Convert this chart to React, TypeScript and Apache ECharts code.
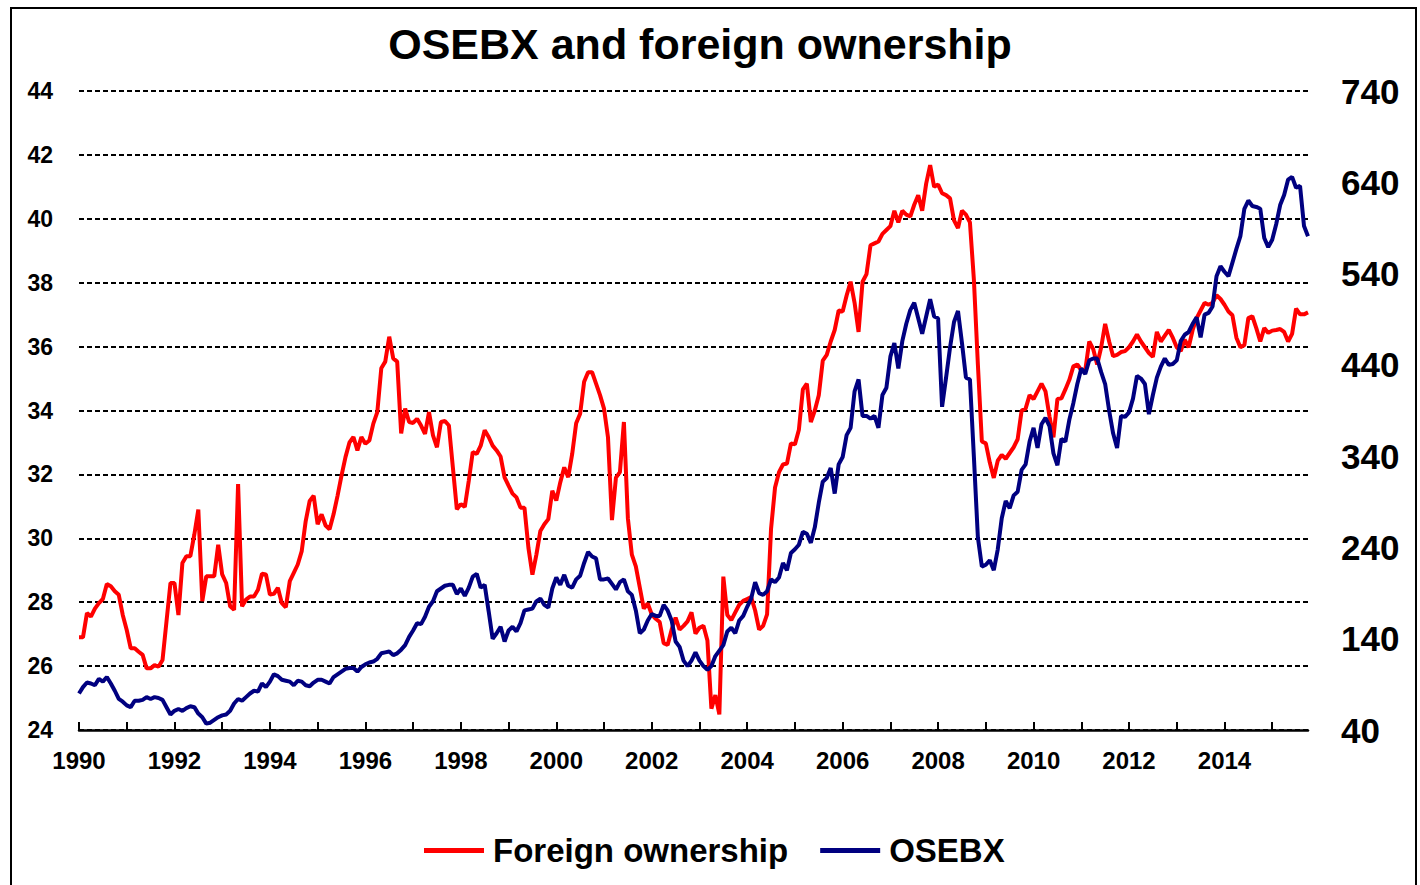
import React, { useEffect, useRef } from "react";
import * as echarts from "echarts";

// Foreign ownership share (%), monthly Jan 1990 - Oct 2015 (left axis)
const foreignOwnership: number[] = [
  26.9, 26.9, 27.66, 27.55, 27.8, 27.97, 28.1, 28.57, 28.5, 28.34, 28.23, 27.6,
  27.13, 26.56, 26.56, 26.45, 26.35, 25.93, 25.93, 26.03, 25.98, 26.19, 27.4, 28.6,
  28.6, 27.6, 29.23, 29.44, 29.44, 30.12, 30.9, 28.03, 28.81, 28.81, 28.81, 29.8,
  28.87, 28.6, 27.87, 27.76, 31.7, 27.87, 28.08, 28.18, 28.18, 28.39, 28.89, 28.87,
  28.24, 28.26, 28.45, 27.97, 27.84, 28.66, 28.92, 29.18, 29.6, 30.54, 31.17, 31.33,
  30.44, 30.75, 30.4, 30.28, 30.75, 31.33, 31.96, 32.54, 33.0, 33.17, 32.75, 33.17,
  32.96, 33.06, 33.59, 33.95, 35.32, 35.53, 36.31, 35.63, 35.53, 33.28, 34.06, 33.64,
  33.61, 33.74, 33.53, 33.27, 33.95, 33.22, 32.85, 33.64, 33.67, 33.53, 32.22, 30.91,
  31.07, 30.98, 31.8, 32.7, 32.64, 32.9, 33.38, 33.17, 32.9, 32.75, 32.56, 31.91,
  31.65, 31.4, 31.28, 30.96, 30.96, 29.7, 28.86, 29.49, 30.23, 30.44, 30.6, 31.49,
  31.18, 31.75, 32.22, 31.91, 32.64, 33.6, 33.9, 34.9, 35.2, 35.2, 34.84, 34.48,
  34.06, 33.16, 30.57, 31.9, 32.07, 33.64, 30.63, 29.49, 29.12, 28.46, 27.8, 27.96,
  27.62, 27.48, 27.38, 26.72, 26.66, 27.14, 27.52, 27.14, 27.26, 27.4, 27.68, 27.02,
  27.2, 27.26, 26.8, 24.67, 25.09, 24.49, 28.8, 27.6, 27.44, 27.68, 27.92, 28.04,
  28.1, 28.16, 27.74, 27.14, 27.26, 27.62, 30.3, 31.59, 32.07, 32.31, 32.34, 32.97,
  32.94, 33.4, 34.66, 34.84, 33.64, 34.0, 34.48, 35.56, 35.74, 36.16, 36.52, 37.13,
  37.1, 37.6, 38.03, 37.37, 36.46, 38.03, 38.27, 39.17, 39.23, 39.29, 39.53, 39.65,
  39.77, 40.25, 39.89, 40.25, 40.13, 40.07, 40.44, 40.74, 40.25, 41.1, 41.68, 41.0,
  41.07, 40.8, 40.74, 40.64, 39.95, 39.71, 40.25, 40.13, 39.89, 38.09, 35.44, 33.03,
  32.97, 32.37, 31.89, 32.43, 32.61, 32.49, 32.67, 32.85, 33.1, 34.0, 34.06, 34.48,
  34.36, 34.6, 34.84, 34.6, 33.82, 33.16, 34.36, 34.38, 34.66, 34.96, 35.38, 35.44,
  35.26, 35.26, 36.16, 35.92, 35.44, 35.98, 36.71, 36.16, 35.7, 35.74, 35.83, 35.86,
  35.98, 36.16, 36.38, 36.16, 35.98, 35.8, 35.68, 36.46, 36.16, 36.34, 36.52, 36.28,
  35.98, 35.86, 36.22, 35.98, 36.52, 36.89, 37.13, 37.37, 37.31, 37.37, 37.61, 37.49,
  37.31, 37.1, 36.98, 36.28, 35.98, 36.04, 36.89, 36.95, 36.58, 36.16, 36.58, 36.43,
  36.5, 36.52, 36.55, 36.46, 36.16, 36.4, 37.19, 37.01, 37.01, 37.07,
];

// OSEBX index level, monthly Jan 1990 - Oct 2015 (right axis)
const osebx: number[] = [
  80, 87, 92, 91, 89, 96, 93, 98, 91, 83, 74, 71,
  67, 65, 72, 72, 73, 76, 74, 76, 75, 73, 65, 57,
  61, 63, 61, 64, 66, 65, 58, 54, 47, 48, 51, 54,
  56, 57, 61, 69, 74, 72, 76, 80, 83, 82, 91, 87,
  93, 101, 99, 95, 94, 93, 89, 94, 93, 89, 88, 92,
  95, 95, 93, 91, 98, 101, 104, 107, 108, 108, 104, 109,
  112, 114, 115, 118, 124, 125, 126, 122, 124, 128, 133, 142,
  149, 157, 156, 164, 175, 181, 192, 195, 198, 199, 199, 189,
  195, 187, 196, 208, 211, 196, 199, 170, 140, 146, 153, 137,
  149, 153, 148, 157, 171, 172, 173, 181, 184, 177, 174, 195,
  207, 199, 210, 198, 196, 205, 209, 223, 235, 230, 228, 205,
  205, 206, 200, 194, 202, 205, 192, 188, 171, 146, 150, 160,
  167, 165, 165, 177, 171, 160, 137, 131, 116, 110, 116, 125,
  116, 110, 106, 110, 121, 127, 133, 148, 152, 146, 160, 165,
  175, 184, 202, 190, 188, 192, 205, 202, 207, 223, 215, 234,
  238, 243, 257, 255, 245, 262, 289, 312, 316, 327, 299, 331,
  339, 363, 371, 411, 424, 384, 384, 381, 384, 371, 407, 415,
  449, 464, 436, 466, 485, 500, 508, 491, 474, 493, 512, 493,
  491, 394, 426, 459, 487, 499, 464, 426, 424, 339, 251, 219,
  221, 226, 215, 238, 272, 291, 283, 297, 301, 325, 331, 356,
  371, 349, 375, 382, 373, 343, 330, 359, 356, 380, 398, 419,
  436, 430, 445, 447, 447, 432, 419, 390, 365, 349, 384, 383,
  388, 403, 428, 425, 419, 386, 407, 426, 438, 447, 440, 441,
  445, 466, 473, 476, 485, 492, 470, 495, 497, 504, 537, 548,
  542, 537, 552, 567, 581, 611, 620, 614, 613, 611, 579, 569,
  577, 594, 615, 626, 643, 646, 634, 636, 592, 581,
];

const startYear = 1990;
const months: string[] = foreignOwnership.map(
  (_, i) => `${startYear + Math.floor(i / 12)}-${String((i % 12) + 1).padStart(2, "0")}`
);
const rightTickLabels = [40, 140, 240, 340, 440, 540, 640, 740];
const seriesNames = ["Foreign ownership", "OSEBX"];

export default function App() {
  const ref = useRef<HTMLDivElement>(null);

  useEffect(() => {
    if (!ref.current) return;
    const chart = echarts.init(ref.current, null, { renderer: "svg" });
    const font = "'Liberation Sans', Arial, sans-serif";
    chart.setOption({
      animation: false,
      backgroundColor: "#ffffff",
      textStyle: { fontFamily: font },
      graphic: [
        {
          type: "rect",
          silent: true,
          shape: { x: 11, y: 8, width: 1405, height: 900 },
          style: { fill: "none", stroke: "#000", lineWidth: 2 },
        },
        {
          type: "text",
          x: 700,
          y: 44,
          style: {
            text: "OSEBX and foreign ownership",
            font: `bold 43px ${font}`,
            fill: "#000",
            textAlign: "center",
            textVerticalAlign: "middle",
          },
        },
      ],
      legend: {
        data: seriesNames,
        left: 424,
        top: 834,
        padding: 0,
        icon: "rect",
        itemWidth: 60,
        itemHeight: 5,
        itemGap: 32,
        textStyle: {
          fontSize: 33,
          fontWeight: "bold",
          color: "#000",
          fontFamily: font,
          padding: [0, 0, 0, 4],
        },
      },
      grid: { left: 79, right: 112, top: 91, bottom: 155 },
      xAxis: {
        type: "category",
        data: months,
        boundaryGap: false,
        axisLine: { lineStyle: { color: "#000", width: 2.5 } },
        axisTick: {
          inside: true,
          length: 8,
          interval: (i: number) => i % 12 === 0,
          lineStyle: { color: "#000", width: 2 },
        },
        axisLabel: {
          interval: (i: number) => i % 24 === 0,
          formatter: (v: string) => v.slice(0, 4),
          fontSize: 24,
          fontWeight: "bold",
          color: "#000",
          fontFamily: font,
          margin: 18,
        },
        splitLine: { show: false },
      },
      yAxis: [
        {
          type: "value",
          min: 24,
          max: 44,
          interval: 2,
          position: "left",
          axisLine: { show: false },
          axisTick: { show: false },
          axisLabel: {
            fontSize: 23,
            fontWeight: "bold",
            color: "#000",
            fontFamily: font,
            margin: 26,
          },
          splitLine: {
            show: true,
            lineStyle: { color: "#000", type: [5, 3], width: 2 },
          },
        },
        {
          type: "value",
          min: 40,
          max: 740,
          position: "right",
          axisLine: { show: false },
          axisTick: { show: false },
          splitLine: { show: false },
          axisLabel: {
            customValues: rightTickLabels,
            fontSize: 35,
            fontWeight: "bold",
            color: "#000",
            fontFamily: font,
            margin: 33,
          },
        },
      ],
      series: [
        {
          name: seriesNames[0],
          type: "line",
          data: foreignOwnership,
          yAxisIndex: 0,
          symbol: "none",
          lineStyle: { color: "#ff0000", width: 4 },
          itemStyle: { color: "#ff0000" },
        },
        {
          name: seriesNames[1],
          type: "line",
          data: osebx,
          yAxisIndex: 1,
          symbol: "none",
          lineStyle: { color: "#000080", width: 4 },
          itemStyle: { color: "#000080" },
        },
      ],
    });
    return () => chart.dispose();
  }, []);

  return (
    <div
      ref={ref}
      style={{ position: "fixed", left: 0, top: 0, width: 1420, height: 885, background: "#fff" }}
    />
  );
}
